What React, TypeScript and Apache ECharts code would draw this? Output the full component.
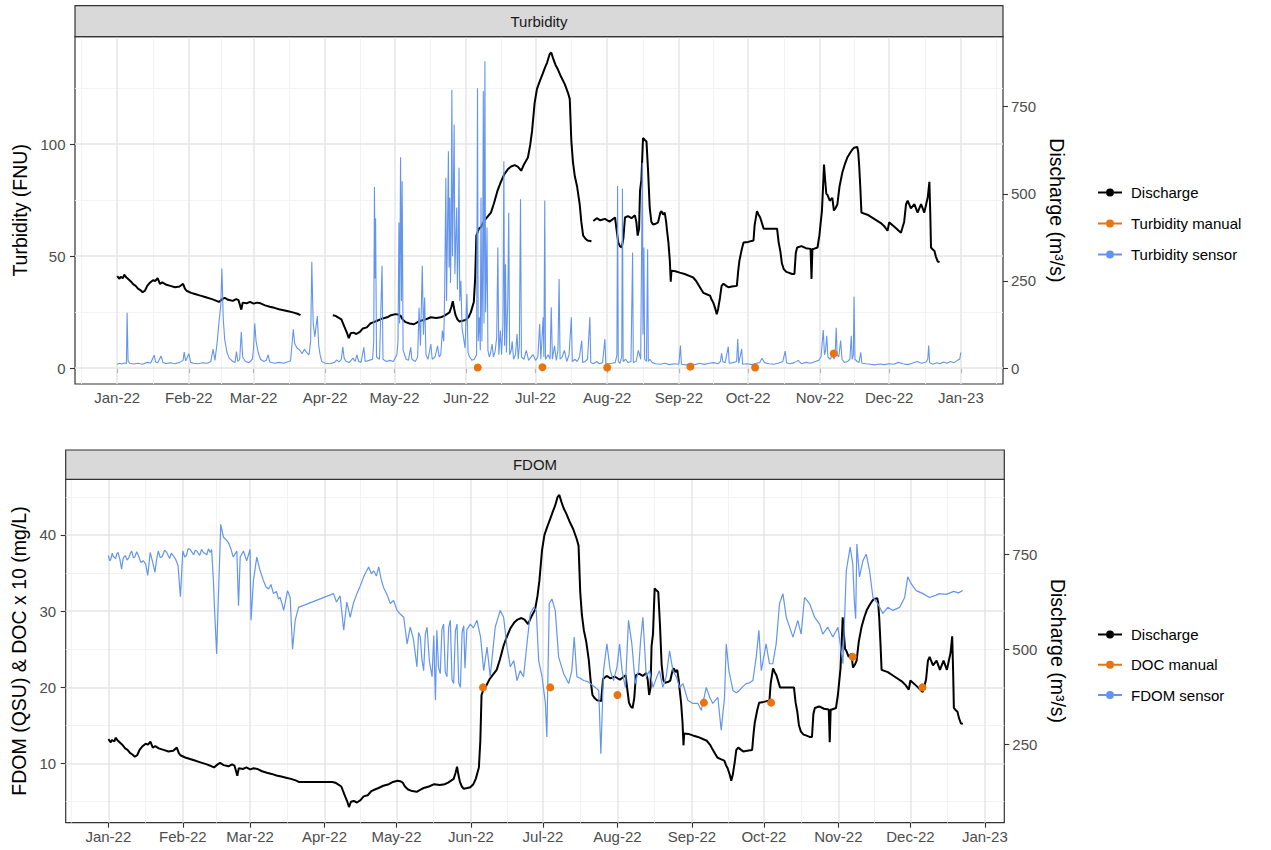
import React, { useEffect, useRef } from "react";
import * as echarts from "echarts";

// ---------- data (day = days since 2022-01-01) ----------
const discharge: [number, number | null][] = [
  [0, 264], [1, 256], [1.5, 262], [2.5, 258], [3, 268], [4, 260], [5, 254], [6, 248], [7, 240], [8, 236], [9, 228], [10, 224], [11, 218], [12, 222], [13, 236], [14, 244], [15.5, 252], [16.5, 250], [17.5, 258], [18.5, 242], [19.5, 246], [21, 240], [23, 236], [25, 232], [27, 234], [28.5, 242], [29.3, 228], [30, 222], [32, 216], [34, 212], [36, 208], [38, 204], [41, 198], [43, 193], [44, 190], [45.5, 198], [46.5, 202], [48, 196], [50, 193], [51.5, 198], [52.5, 195], [53.7, 168], [54.3, 188], [56, 186], [57.5, 190], [59, 185], [60.5, 188], [62, 186], [64, 180], [66, 176], [68, 173], [70, 169], [72, 166], [74, 163], [76, 160], [78, 156], [79.3, 152], [86, null],
  [93.3, 152], [94.5, 150], [95.5, 146], [97, 140], [98.6, 114], [99.5, 100], [100.2, 86], [101, 100], [102.2, 102], [103.5, 98], [105, 104], [106.3, 114], [108, 117], [109.5, 128], [111, 132], [112.5, 136], [114.5, 142], [116.8, 146], [118.5, 152], [120.4, 155], [121.5, 154], [122.6, 150], [123.5, 140], [124.8, 132], [126.5, 128], [128.4, 126], [130, 132], [131.3, 136], [133.5, 140], [135.7, 146], [138, 144], [140, 146], [141.5, 150], [143.8, 160], [144.6, 176], [145.2, 192], [145.8, 170], [146.4, 152], [147.2, 140], [148, 134], [149.5, 136], [150.7, 138], [152, 146], [153, 160], [154.3, 190], [154.9, 260], [155.4, 380], [156.5, 400], [157.4, 405], [158.8, 422], [160, 432], [161.7, 446], [163, 472], [164.6, 510], [166, 534], [167.5, 556], [169, 570], [170.4, 578], [172, 582], [173.3, 578], [174.8, 566], [176, 584], [177.7, 604], [178.7, 640], [179.5, 680], [180.6, 760], [181.6, 800], [182.8, 822], [184, 842], [185, 860], [186, 876], [187.1, 900], [187.8, 905], [188.6, 888], [189.6, 870], [190.7, 856], [192, 836], [193.6, 815], [195, 790], [195.8, 772], [196.5, 650], [197.2, 590], [198, 550], [199, 520], [200.1, 470], [200.8, 420], [201.6, 380], [202.5, 372], [203.5, 366], [205.2, 364], [205.6, null],
  [206, 422], [207.5, 430], [209, 424], [211, 428], [213, 420], [215.4, 432], [216, 400], [216.8, 360], [217.5, 350], [218.3, 346], [219, 372], [219.7, 432], [221, 436], [222.5, 430], [224, 438], [224.6, 420], [225.2, 380], [225.8, 400], [226.2, 508], [226.8, 540], [227.5, 660], [228.3, 654], [229, 650], [229.7, 565], [230.4, 460], [231.1, 420], [231.8, 412], [233, 414], [234, 418], [235, 446], [235.5, 450], [236.2, 440], [236.9, 446], [237.5, 420], [237.9, 394], [238.5, 360], [239.1, 308], [239.5, 248], [239.8, 279], [241.5, 278], [243.4, 274], [245.5, 270], [247.8, 264], [249.2, 260], [250.5, 250], [251.4, 240], [252.5, 228], [253.6, 216], [255, 212], [256.5, 208], [257.2, 196], [257.9, 188], [258.8, 170], [259.4, 155], [260, 170], [260.8, 202], [261.5, 236], [262.3, 242], [263.5, 236], [264.4, 232], [266, 234], [268.1, 236], [268.7, 280], [269.2, 308], [270.2, 340], [271, 360], [273, 362], [275.3, 366], [275.8, 410], [276.8, 450], [277.5, 440], [278.2, 432], [279.7, 400], [282, 400], [285.5, 400], [286.2, 360], [286.9, 336], [287.6, 300], [288.4, 284], [289.5, 276], [290.5, 274], [292, 270], [293, 270], [293.6, 330], [294.2, 346], [296, 350], [298, 344], [300, 342], [300.4, 256], [300.8, 342], [301.4, 342], [303, 346], [303.8, 380], [304.3, 412], [304.9, 450], [305.4, 520], [305.8, 584], [306.3, 540], [306.8, 500], [307.2, 498], [308.3, 480], [309.4, 488], [310.1, 452], [310.9, 460], [311.6, 470], [312.5, 520], [313.7, 560], [314.8, 584], [315.9, 604], [317, 616], [318, 626], [318.8, 632], [320.2, 634], [320.6, 620], [321, 584], [321.5, 520], [322, 446], [324.6, 440], [327.5, 428], [330.4, 416], [332, 406], [333.3, 394], [334, 418], [336.5, 404], [339.1, 388], [340.5, 420], [341.3, 470], [342, 480], [343.4, 458], [344.9, 470], [346.3, 446], [347.8, 470], [349.2, 446], [350, 470], [350.7, 490], [351.4, 534], [351.8, 440], [352.1, 346], [352.9, 340], [353.6, 336], [354.2, 320], [355, 306], [355.8, 304],
];

const turbiditySensor: [number, number][] = [
  [0, 1.8], [1, 2.2], [2, 1.9], [3, 2.3], [4, 2.1], [4.3, 24.8], [4.7, 3.2], [5.5, 2.2], [7, 1.9], [9, 2.2], [11, 1.8], [13, 2.6], [14.5, 2.3], [16, 5.8], [16.6, 2.8], [17.5, 2.4], [19, 5.5], [19.8, 2.6], [21, 2.1], [23, 2.4], [25, 2.0], [27, 2.6], [28.5, 3.5], [29, 7.2], [29.6, 3.2], [31, 6.5], [31.8, 2.6], [33, 2.2], [35, 2.0], [37, 2.4], [39, 2.2], [40.5, 3.0], [41.5, 8.5], [42.3, 3.5], [43.3, 12], [44, 20], [44.8, 28], [45.3, 44.5], [45.9, 22], [46.5, 13], [47.5, 7], [48.5, 4.5], [50, 3], [51, 2.6], [51.6, 7.4], [52.2, 3], [53, 4], [53.7, 16.3], [54.3, 5], [55.5, 3], [57, 2.5], [58.5, 4], [59, 9], [59.5, 20], [60.1, 12], [61, 7], [62, 4], [63.5, 3], [64.5, 3.5], [65.3, 6], [66, 2.8], [68, 2.2], [70, 2.6], [72, 2.2], [73.5, 2.8], [75, 3.2], [76.2, 17.4], [76.8, 11], [77.8, 9], [79, 8], [80, 6.5], [81, 8.5], [82, 7], [83, 6], [83.7, 12], [84.2, 47.5], [84.8, 20], [85.5, 14], [86.6, 23.3], [87.2, 10], [87.8, 6], [88.5, 3], [90, 2.2], [92, 2.0], [94, 2.6], [95, 3.7], [96, 2.8], [97, 4], [97.6, 9.6], [98.2, 4.5], [99, 3], [100.5, 2.6], [102, 4.5], [103, 3], [103.7, 6], [104.5, 3], [105.5, 2.6], [106.7, 9.3], [107.3, 3], [109, 3.5], [110.5, 4], [111, 12], [111.3, 80.9], [111.6, 40], [111.8, 67], [112.2, 5], [113.5, 4], [114.6, 45.7], [115, 4], [116.5, 3], [118, 3.5], [119.5, 3], [121, 6], [121.5, 12], [121.9, 65], [122.2, 20], [122.6, 94.2], [123, 30], [123.3, 83.5], [123.7, 8], [125, 4], [126, 3.5], [127, 9.3], [127.5, 4], [129, 3], [130, 5], [130.6, 27], [131.2, 10], [132, 45.7], [132.5, 15], [133, 31.6], [133.6, 6], [134.5, 4], [135.7, 10.8], [136.3, 4], [137.5, 5], [138.6, 10], [139.3, 5], [140, 6], [140.7, 16.8], [141.3, 12], [141.7, 35], [142.2, 85], [142.5, 30], [142.9, 60], [143.3, 96.9], [143.6, 45], [143.9, 76.1], [144.2, 38], [144.5, 60], [144.8, 124.3], [145.1, 50], [145.4, 75], [145.8, 108.8], [146.1, 42], [146.5, 58], [146.9, 71.7], [147.2, 35], [147.5, 50], [147.9, 89.5], [148.2, 30], [148.7, 39], [149.2, 18], [149.8, 14], [150.5, 9], [151.3, 33.1], [151.8, 7], [152.5, 5], [153.5, 3.5], [154.5, 4], [155.5, 6], [155.9, 125], [156.2, 12], [156.7, 22.7], [157.1, 8], [157.4, 76.1], [157.8, 12], [158.1, 40], [158.4, 123.6], [158.7, 20], [159.1, 137], [159.4, 25], [159.7, 40], [160, 62.8], [160.4, 8], [161, 5], [161.6, 7], [162.2, 10.8], [162.8, 5], [163.6, 8], [164.2, 14], [164.7, 53.9], [165.1, 6], [165.8, 16.8], [166.3, 6], [166.9, 20], [167.3, 92.4], [167.6, 10], [168, 46.4], [168.4, 7], [169, 30], [169.4, 69.4], [169.8, 6], [170.5, 8], [170.9, 12], [171.5, 4], [172.3, 6], [173, 15.3], [173.5, 4], [174, 10], [174.5, 75.4], [174.9, 5], [176, 4], [177, 8], [178, 3.5], [179, 5], [180, 6], [181, 3.5], [182, 5], [182.8, 19.7], [183.3, 4], [184.3, 22.7], [184.6, 5], [185, 74.9], [185.3, 4], [186.5, 6], [187.3, 4], [187.8, 27.2], [188.3, 4], [189.2, 10], [190, 3.5], [190.7, 8], [191.2, 39.8], [191.6, 4], [192.5, 5], [193.5, 8], [194.5, 3], [195.5, 6], [196.5, 22.7], [196.9, 3], [198, 4], [199, 3], [200, 5], [201, 12.3], [201.4, 2.5], [202.5, 3], [203.5, 4], [204.5, 22.7], [204.9, 2.5], [206, 2], [207.5, 3], [208.5, 2], [210, 2.5], [211, 13], [211.4, 2], [212.5, 2], [214, 2.2], [215.5, 2.5], [216.2, 6], [216.5, 81.3], [216.8, 3], [217.5, 2.2], [218.3, 5], [218.6, 80.1], [218.9, 3], [220, 4], [221, 2.5], [222.3, 3], [223, 51.6], [223.3, 2.5], [224.5, 3], [225.5, 8], [226.5, 4], [227.2, 91.7], [227.5, 15], [227.9, 53.9], [228.2, 4], [229, 3], [229.5, 53.1], [229.8, 3], [230.5, 4], [231.5, 2.5], [233, 2], [235, 1.8], [237, 2.2], [239, 1.6], [241, 2.0], [243, 1.8], [243.7, 10.1], [244.1, 1.8], [246, 1.5], [248, 2.0], [250, 1.6], [252, 2.2], [254, 1.7], [256, 2.2], [258, 2.5], [260, 2.0], [261, 3], [261.5, 6.7], [262, 3], [263, 2.4], [264.4, 9.6], [264.8, 2.2], [266.5, 2.5], [268, 3], [268.5, 13], [268.9, 2.2], [270.2, 8.6], [270.6, 1.8], [272.5, 2], [274.5, 1.6], [276.5, 2.2], [278, 2.5], [279, 4.5], [280, 2.5], [282, 2], [284, 1.8], [286, 2.2], [288, 3], [289, 7.6], [289.6, 2.4], [291, 2], [293, 2.5], [294.6, 3.5], [296, 2], [298, 2.6], [300, 2.2], [302, 3], [303.5, 3.5], [304.5, 5], [305.5, 17], [306, 6], [306.5, 8], [307, 14.5], [307.5, 5], [308.5, 4], [309.4, 6], [310.2, 4], [310.7, 8], [311.1, 18], [311.5, 6], [312.2, 5], [313, 12.3], [313.6, 4], [314.7, 2.5], [316, 3], [317, 4], [317.6, 14.5], [318, 4], [318.5, 6], [318.8, 31.9], [319.2, 4], [320.2, 3], [321, 2.6], [321.7, 7.1], [322.2, 2.2], [324, 2], [326, 1.8], [327.5, 1.5], [330, 1.9], [332, 1.6], [334, 2], [336, 1.8], [338, 2.6], [340, 2], [342, 1.6], [344, 2.2], [346, 3], [348, 2.2], [350, 2.8], [350.7, 4], [351.1, 10.1], [351.5, 2.4], [353, 1.8], [354.5, 2.4], [356, 2], [357.5, 2.8], [359, 2.2], [360.5, 3], [362, 2.4], [363.5, 3.5], [364.5, 4], [365, 7],
];

const turbidityManual: [number, number][] = [
  [156, 0.3], [184, 0.4], [212, 0.3], [248, 0.7], [276, 0.3], [310, 6.6],
];

const fdomSensor: [number, number][] = [
  [0, 37.3], [0.6, 36.6], [1, 36.8], [1.6, 37.6], [2, 37.2], [3, 36.9], [3.5, 37.5], [4, 37.7], [4.8, 36.8], [5.5, 35.5], [6.2, 37.0], [7, 37.3], [7.8, 36.7], [8.5, 37.0], [9.2, 37.6], [9.7, 37.9], [10.4, 37.0], [11, 37.1], [11.8, 37.8], [12.5, 37.3], [13.5, 36.4], [14.6, 36.6], [15.5, 36.2], [16.4, 34.7], [17.4, 37.7], [18.4, 36.5], [19.4, 35.1], [20.1, 36.8], [20.8, 37.9], [21.6, 37.0], [22.5, 37.2], [23.4, 38.0], [24.3, 37.7], [25.5, 36.9], [26.2, 37.6], [27, 37.3], [28, 36.8], [29, 36], [30, 31.9], [31, 37.9], [31.8, 37.1], [32.5, 37.3], [33.2, 38.2], [34, 38.1], [35.5, 37.4], [36.2, 38.0], [36.8, 37.9], [38, 37.3], [38.8, 38.1], [39.6, 37.7], [41, 37.4], [41.7, 38.2], [42.4, 37.7], [43, 38.1], [43.75, 34], [44.2, 30.3], [45.1, 24.4], [45.8, 31.8], [46.8, 41.4], [47.9, 39.7], [49, 39.4], [50, 39], [51, 38.2], [52, 37.1], [53.5, 37.9], [54.2, 30.7], [54.9, 37.1], [56.25, 37.9], [57.6, 36.6], [59, 38.1], [59.4, 28.8], [60.4, 34], [61.8, 37.1], [63.2, 35.3], [64.6, 34], [65.6, 33.2], [66.7, 32.9], [67.7, 33.5], [68.75, 32.3], [70, 32.6], [70.8, 31.6], [71.5, 31.8], [72.3, 31.0], [73, 30.1], [74.6, 32.7], [75.7, 31.8], [76.7, 25], [77.8, 28.8], [79.2, 30.5], [93.75, 32.3], [95, 31.2], [96.5, 32], [98, 27.5], [99.3, 31.2], [100.7, 29.2], [102, 31], [103.5, 32.3], [105, 33.4], [106.3, 34.5], [107.4, 35.2], [108.4, 35.8], [109.5, 34.9], [110.5, 35.3], [111.6, 34.6], [112.6, 35.8], [113.6, 34.2], [114.6, 33.1], [116, 32.2], [117.4, 31], [118.8, 31.4], [120.2, 30.1], [121.6, 29.6], [123, 29.2], [124.4, 25.7], [125.7, 27.9], [127, 26.4], [128.5, 22.7], [129.2, 27.2], [129.9, 26.6], [130.6, 23.6], [131.3, 22.2], [132, 27.0], [132.7, 27.9], [133.7, 23.4], [134.8, 21.4], [135.5, 26.8], [136.2, 18.3], [136.8, 27.5], [137.5, 22.6], [138.2, 21.8], [138.9, 27.6], [139.6, 28.3], [140.3, 22.0], [141, 21.4], [141.7, 27.8], [142.4, 28.8], [143.1, 21.0], [143.8, 20.5], [144.5, 27.4], [145.2, 28.3], [145.9, 20.6], [146.6, 20], [147.3, 27.2], [148, 28.1], [148.5, 22.5], [149.3, 27.6], [150, 27.9], [150.7, 28.3], [152, 27.8], [153.5, 28.8], [155, 26.6], [156.3, 22.2], [157.7, 25.3], [159, 21.4], [161.1, 27.9], [163.2, 30.1], [164.6, 29.2], [166, 25.3], [167.4, 22.7], [168.8, 23.5], [170.2, 20.9], [171.5, 22.2], [172.9, 21.4], [174.3, 25.7], [175.7, 29.7], [177.1, 30.5], [178.2, 30.1], [179.2, 23.5], [180.6, 21.4], [182, 17.9], [182.6, 13.5], [183.6, 31], [184.7, 31.6], [186.1, 30.1], [187.5, 24], [189.6, 21.8], [191.7, 20.5], [193, 22.2], [194, 26.6], [195.1, 21.4], [196.5, 21.2], [197.9, 20.9], [199.3, 20.8], [200.7, 20.5], [202.8, 20], [204.2, 19.6], [205.1, 11.3], [206.2, 22.2], [207.6, 25.7], [209, 22.2], [210.4, 20.9], [211.8, 22.7], [212.9, 25.7], [213.9, 22.2], [215.3, 20], [216.6, 28.8], [218, 25.7], [219.4, 20.5], [220.8, 22.2], [221.6, 26], [222.6, 29.2], [224, 21.4], [225.4, 22.2], [226.8, 20], [228.2, 21.2], [229.5, 22.2], [230.9, 20], [232.3, 21.4], [233.7, 24.8], [235.1, 22.2], [236.5, 21.4], [237.9, 20], [239.3, 20.5], [241.3, 18.3], [243.4, 17.9], [245.5, 17.9], [246.9, 17], [249, 20], [250.4, 18.7], [251.7, 17.9], [253.8, 18.7], [255.2, 14.4], [256.6, 18.7], [257.3, 25.7], [258.4, 22.2], [260.1, 19.6], [261.5, 19.3], [262.8, 19.6], [264.2, 20.1], [265.6, 20.5], [267, 20.6], [268.4, 20.9], [269.8, 24], [270.9, 27.5], [271.9, 22.2], [273.9, 25.7], [275.3, 23.1], [276.7, 23.1], [278.1, 25.7], [279.5, 31], [280.9, 32.3], [282.3, 29.2], [283.7, 27.9], [285.1, 26.6], [287.1, 28.8], [288.5, 27], [289.9, 31.8], [292, 31], [294.1, 29.2], [296.2, 28.3], [297.5, 27], [299.6, 27.9], [301.7, 26.6], [303.8, 27.9], [305.2, 24.8], [305.9, 23.1], [307.3, 35.3], [308.9, 38.4], [310, 36.2], [310.7, 31], [311.2, 29], [311.7, 38.8], [312.8, 34.5], [314.2, 36.6], [315.6, 37.5], [317, 35.3], [318.4, 31.8], [320.4, 31], [322.5, 29.7], [324.6, 30.5], [326.7, 30.1], [329.5, 30.5], [331.6, 31.8], [332.9, 34.5], [334.3, 33.6], [336.4, 32.7], [339.2, 32.3], [342, 31.8], [344.7, 32.1], [346.1, 32.3], [349, 32.2], [352, 32.6], [354, 32.4], [355.8, 32.7],
];

// DOC in mg/L (plotted as DOC x 10)
const docManual: [number, number][] = [
  [156, 2.0], [184, 2.0], [212, 1.9], [248, 1.8], [276, 1.8], [310, 2.4], [339, 2.0],
];

const monthLabels = ["Jan", "Feb", "Mar", "Apr", "May", "Jun", "Jul", "Aug", "Sep", "Oct", "Nov", "Dec"];
const topLeftTicks = [0, 50, 100];
const topLeftMinor = [25, 75, 125];
const bottomLeftTicks = [10, 20, 30, 40];
const bottomLeftMinor = [5, 15, 25, 35, 45];
const rightTicks = [0, 250, 500, 750];

const K_TOP = 6.42; // discharge / turbidity scale factor
const K_BOTTOM = 20; // discharge / FDOM scale factor

const TOP_X_DAYS = [-18.25, 383.25];
const BOTTOM_X_DAYS = [-17.77, 373.1];
const TOP_Y = [-7.05, 148.0];
const BOTTOM_Y = [2.25, 47.3];

// ---------- helpers ----------
const BASE = new Date(2022, 0, 1).getTime();
const DAY = 86400000;
const t = (d: number) => BASE + d * DAY;

const FONT = "'Liberation Sans', Arial, Helvetica, sans-serif";
const BLUE = "#6495ED";
const ORANGE = "#E8730F";
const ICON = "path://M0,3H8V5H0Z M16,3H24V5H16Z M8,4A4,4 0 1,1 16,4A4,4 0 1,1 8,4Z";

const monthStarts: number[] = [];
for (let m = -1; m <= 13; m++) monthStarts.push(new Date(2022, m, 1).getTime());

function buildOption() {
  const fmt = (v: number) => {
    const d = new Date(v);
    return monthLabels[d.getMonth()] + "-" + String(d.getFullYear()).slice(2);
  };
  const mids: number[] = [];
  for (let i = 0; i < monthStarts.length - 1; i++) mids.push((monthStarts[i] + monthStarts[i + 1]) / 2);

  const gridLines = (xi: number, yi: number, xr: number[], yMajor: number[], yMinor: number[]) => {
    const lo = t(xr[0]);
    const hi = t(xr[1]);
    const xMaj = monthStarts.filter((v) => v > lo && v < hi);
    const xMin = mids.filter((v) => v > lo && v < hi);
    const major = { color: "#e6e6e6", width: 1.5, type: "solid" };
    const minor = { color: "#f2f2f2", width: 0.9, type: "solid" };
    return {
      type: "line",
      xAxisIndex: xi,
      yAxisIndex: yi,
      data: [],
      silent: true,
      z: 1,
      markLine: {
        silent: true,
        symbol: ["none", "none"],
        label: { show: false },
        emphasis: { disabled: true },
        animation: false,
        z: 1,
        data: [
          ...xMin.map((v) => ({ xAxis: v, lineStyle: minor })),
          ...yMinor.map((v) => ({ yAxis: v, lineStyle: minor })),
          ...xMaj.map((v) => ({ xAxis: v, lineStyle: major })),
          ...yMajor.map((v) => ({ yAxis: v, lineStyle: major })),
        ],
      },
    };
  };

  const xAxisCfg = (gi: number, xr: number[]) => {
    const lo = t(xr[0]);
    const hi = t(xr[1]);
    const ticks = monthStarts.filter((v) => v > lo && v < hi);
    return {
      type: "value",
      gridIndex: gi,
      min: lo,
      max: hi,
      axisLine: { show: false },
      splitLine: { show: false },
      axisTick: { show: true, length: 5, lineStyle: { color: "#333333", width: 1.1 }, customValues: ticks },
      axisLabel: { fontSize: 15, color: "#4d4d4d", fontFamily: FONT, margin: 6, customValues: ticks, formatter: fmt, hideOverlap: false },
    };
  };

  const yAxisCfg = (gi: number, pos: string, mm: number[], ticks: number[], name: string, gap: number, rot: number, margin: number) => ({
    type: "value",
    gridIndex: gi,
    position: pos,
    min: mm[0],
    max: mm[1],
    axisLine: { show: false },
    splitLine: { show: false },
    axisTick: { show: true, length: 5, lineStyle: { color: "#333333", width: 1.1 }, customValues: ticks },
    axisLabel: { fontSize: 15, color: "#4d4d4d", fontFamily: FONT, margin, customValues: ticks },
    name,
    nameLocation: "middle",
    nameGap: gap,
    nameRotate: rot,
    nameTextStyle: { fontSize: 19.5, color: "#000", fontFamily: FONT },
  });

  const topRight = [TOP_Y[0] * K_TOP, TOP_Y[1] * K_TOP];
  const botRight = [BOTTOM_Y[0] * K_BOTTOM, BOTTOM_Y[1] * K_BOTTOM];

  const qData = discharge.map(([d, q]) => [t(d), q]);

  const legendBase = {
    orient: "vertical",
    left: 1093,
    icon: ICON,
    itemWidth: 24,
    itemHeight: 8,
    itemGap: 13,
    selectedMode: false,
    textStyle: { fontSize: 15, color: "#000", fontFamily: FONT, padding: [0, 0, 0, 4], lineHeight: 18 },
  };

  return {
    animation: false,
    textStyle: { fontFamily: FONT },
    grid: [
      { left: 75, width: 928, top: 36.7, height: 347.3, show: true, borderColor: "#333333", borderWidth: 1.2, backgroundColor: "#ffffff" },
      { left: 65.7, width: 938.6, top: 479.3, height: 343.4, show: true, borderColor: "#333333", borderWidth: 1.2, backgroundColor: "#ffffff" },
    ],
    xAxis: [xAxisCfg(0, TOP_X_DAYS), xAxisCfg(1, BOTTOM_X_DAYS)],
    yAxis: [
      yAxisCfg(0, "left", TOP_Y, topLeftTicks, "Turbidity (FNU)", 43, 90, 9.5),
      yAxisCfg(0, "right", topRight, rightTicks, "Discharge (m³/s)", 36, -90, 8),
      yAxisCfg(1, "left", BOTTOM_Y, bottomLeftTicks, "FDOM (QSU) & DOC x 10 (mg/L)", 35, 90, 9.5),
      yAxisCfg(1, "right", botRight, rightTicks, "Discharge (m³/s)", 36, -90, 8),
    ],
    legend: [
      { ...legendBase, top: 178.5, data: ["Discharge", "Turbidity manual", "Turbidity sensor"] },
      { ...legendBase, top: 620.5, itemGap: 12.3, data: ["Discharge", "DOC manual", "FDOM sensor"] },
    ],
    graphic: [
      { type: "rect", z: 100, shape: { x: 75, y: 5.7, width: 928, height: 31 }, style: { fill: "#d9d9d9", stroke: "#333333", lineWidth: 1.2 } },
      { type: "text", z: 101, x: 539, y: 21.2, style: { text: "Turbidity", fontSize: 15, fontFamily: FONT, fill: "#1a1a1a", align: "center", verticalAlign: "middle", textAlign: "center", textVerticalAlign: "middle" } },
      { type: "rect", z: 100, shape: { x: 65.7, y: 450, width: 938.6, height: 29.3 }, style: { fill: "#d9d9d9", stroke: "#333333", lineWidth: 1.2 } },
      { type: "text", z: 101, x: 535, y: 464.7, style: { text: "FDOM", fontSize: 15, fontFamily: FONT, fill: "#1a1a1a", align: "center", verticalAlign: "middle", textAlign: "center", textVerticalAlign: "middle" } },
    ],
    series: [
      gridLines(0, 0, TOP_X_DAYS, topLeftTicks, topLeftMinor),
      gridLines(1, 2, BOTTOM_X_DAYS, bottomLeftTicks, bottomLeftMinor),
      {
        name: "Discharge", type: "line", xAxisIndex: 0, yAxisIndex: 1, data: qData,
        showSymbol: false, symbol: "circle", connectNulls: false, color: "#000000",
        lineStyle: { color: "#000000", width: 2 }, itemStyle: { color: "#000000" }, z: 2, silent: true,
      },
      {
        name: "Turbidity sensor", type: "line", xAxisIndex: 0, yAxisIndex: 0,
        data: turbiditySensor.map(([d, v]) => [t(d), v]),
        showSymbol: false, symbol: "circle", color: BLUE,
        lineStyle: { color: BLUE, width: 1.1 }, itemStyle: { color: BLUE }, z: 3, silent: true,
      },
      {
        name: "Turbidity manual", type: "scatter", xAxisIndex: 0, yAxisIndex: 0,
        data: turbidityManual.map(([d, v]) => [t(d), v]),
        symbol: "circle", symbolSize: 8, color: ORANGE, itemStyle: { color: ORANGE, opacity: 1 }, z: 4, silent: true,
      },
      {
        name: "Discharge", type: "line", xAxisIndex: 1, yAxisIndex: 3, data: qData,
        showSymbol: false, symbol: "circle", connectNulls: true, color: "#000000",
        lineStyle: { color: "#000000", width: 2 }, itemStyle: { color: "#000000" }, z: 2, silent: true,
      },
      {
        name: "FDOM sensor", type: "line", xAxisIndex: 1, yAxisIndex: 2,
        data: fdomSensor.map(([d, v]) => [t(d), v]),
        showSymbol: false, symbol: "circle", color: BLUE,
        lineStyle: { color: BLUE, width: 1.2 }, itemStyle: { color: BLUE }, z: 3, silent: true,
      },
      {
        name: "DOC manual", type: "scatter", xAxisIndex: 1, yAxisIndex: 2,
        data: docManual.map(([d, v]) => [t(d), v * 10]),
        symbol: "circle", symbolSize: 8, color: ORANGE, itemStyle: { color: ORANGE, opacity: 1 }, z: 4, silent: true,
      },
    ],
  };
}

export default function App() {
  const ref = useRef<HTMLDivElement>(null);
  useEffect(() => {
    document.body.style.margin = "0";
    const chart = echarts.init(ref.current as HTMLDivElement, null, { renderer: "svg" });
    chart.setOption(buildOption() as any);
    return () => chart.dispose();
  }, []);
  return <div ref={ref} style={{ width: 1271, height: 850 }} />;
}
